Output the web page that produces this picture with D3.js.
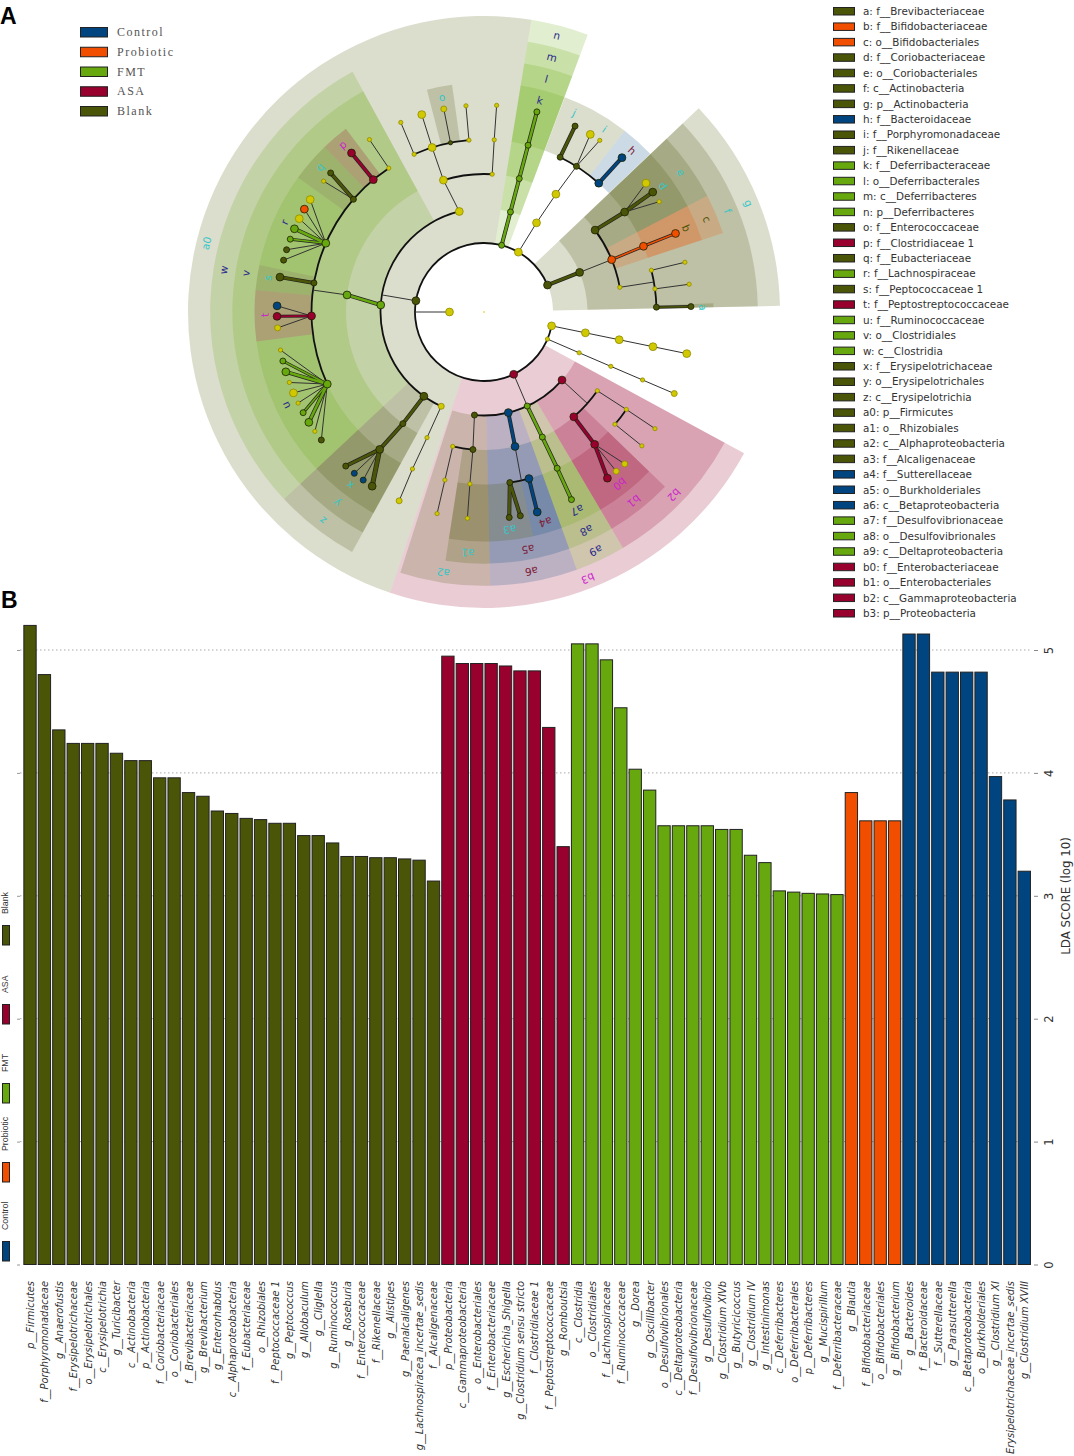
<!DOCTYPE html>
<html><head><meta charset="utf-8">
<script src="https://cdn.jsdelivr.net/npm/d3@7"></script>
<style>html,body{margin:0;padding:0;background:#fff;overflow:hidden}svg{display:block}</style>
</head><body><svg id="c" width="1074" height="1456"></svg>
<script>
// ---------- groups
const groupNames = ["Control","Probiotic","FMT","ASA","Blank"];
const groupColors = ["#00457f","#f24e00","#67a80f","#98002e","#4b5507"];
const neutralColor = "#d0c800";

// ---------- panel B
const blankCats = ["p__Firmicutes","f__Porphyromonadaceae","g__Anaerofustis","f__Erysipelotrichaceae","o__Erysipelotrichales","c__Erysipelotrichia","g__Turicibacter","c__Actinobacteria","p__Actinobacteria","f__Coriobacteriaceae","o__Coriobacteriales","f__Brevibacteriaceae","g__Brevibacterium","g__Enterorhabdus","c__Alphaproteobacteria","f__Eubacteriaceae","o__Rhizobiales","f__Peptococcaceae 1","g__Peptococcus","g__Allobaculum","g__Cliglella","g__Ruminococcus","g__Roseburia","f__Enterococcaceae","f__Rikenellaceae","g__Alistipes","g__Paenalcaligenes","g__Lachnospiracea_incertae_sedis","f__Alcaligenaceae"];
const blankVals = [5.2,4.8,4.35,4.24,4.24,4.24,4.16,4.10,4.10,3.96,3.96,3.84,3.81,3.69,3.67,3.63,3.62,3.59,3.59,3.49,3.49,3.43,3.32,3.32,3.31,3.31,3.30,3.29,3.12];
const asaCats = ["p__Proteobacteria","c__Gammaproteobacteria","o__Enterobacteriales","f__Enterobacteriaceae","g__Escherichia_Shigella","g__Clostridium sensu stricto","f__Clostridiaceae 1","f__Peptostreptococcaceae","g__Romboutsia"];
const asaVals = [4.95,4.89,4.89,4.89,4.87,4.83,4.83,4.37,3.40];
const fmtCats = ["c__Clostridia","o__Clostridiales","f__Lachnospiraceae","f__Ruminococcaceae","g__Dorea","g__Oscillibacter","o__Desulfovibrionales","c__Deltaproteobacteria","f__Desulfovibrionaceae","g__Desulfovibrio","g__Clostridium XlVb","g__Butyricicoccus","g__Clostridium IV","g__Intestinimonas","c__Deferribacteres","o__Deferribacterales","p__Deferribacteres","g__Mucispirillum","f__Deferribacteraceae"];
const fmtVals = [5.05,5.05,4.92,4.53,4.03,3.86,3.57,3.57,3.57,3.57,3.54,3.54,3.33,3.27,3.04,3.03,3.02,3.015,3.01];
const probioticCats = ["g__Blautia","f__Bifidobacteriaceae","o__Bifidobacteriales","g__Bifidobacterium"];
const probioticVals = [3.84,3.61,3.61,3.61];
const controlCats = ["g__Bacteroides","f__Bacteroidaceae","f__Sutterellaceae","g__Parasutterella","c__Betaproteobacteria","o__Burkholderiales","g__Clostridium XI","Erysipelotrichaceae_incertae_sedis","g__Clostridium XVIII"];
const controlVals = [5.13,5.13,4.82,4.82,4.82,4.82,3.97,3.78,3.20];
const yTicks = [0,1,2,3,4,5];

// ---------- panel A legend
const cladeLegendKeys = ["a","b","c","d","e","f","g","h","i","j","k","l","m","n","o","p","q","r","s","t","u","v","w","x","y","z","a0","a1","a2","a3","a4","a5","a6","a7","a8","a9","b0","b1","b2","b3"];
const cladeLegendNames = ["f__Brevibacteriaceae","f__Bifidobacteriaceae","o__Bifidobacteriales","f__Coriobacteriaceae","o__Coriobacteriales","c__Actinobacteria","p__Actinobacteria","f__Bacteroidaceae","f__Porphyromonadaceae","f__Rikenellaceae","f__Deferribacteraceae","o__Deferribacterales","c__Deferribacteres","p__Deferribacteres","f__Enterococcaceae","f__Clostridiaceae 1","f__Eubacteriaceae","f__Lachnospiraceae","f__Peptococcaceae 1","f__Peptostreptococcaceae","f__Ruminococcaceae","o__Clostridiales","c__Clostridia","f__Erysipelotrichaceae","o__Erysipelotrichales","c__Erysipelotrichia","p__Firmicutes","o__Rhizobiales","c__Alphaproteobacteria","f__Alcaligenaceae","f__Sutterellaceae","o__Burkholderiales","c__Betaproteobacteria","f__Desulfovibrionaceae","o__Desulfovibrionales","c__Deltaproteobacteria","f__Enterobacteriaceae","o__Enterobacteriales","c__Gammaproteobacteria","p__Proteobacteria"];
const cladeLegendGroups = ["Blank","Probiotic","Probiotic","Blank","Blank","Blank","Blank","Control","Blank","Blank","FMT","FMT","FMT","FMT","Blank","ASA","Blank","FMT","Blank","ASA","FMT","FMT","FMT","Blank","Blank","Blank","Blank","Blank","Blank","Blank","Control","Control","Control","FMT","FMT","FMT","ASA","ASA","ASA","ASA"];

// ---------- cladogram: wedges [rank (1 phylum .. 4 family), start deg, end deg, group]
const cladeWedges = [
[1,-161.5,9.2,"Blank"],[1,9.2,20.5,"FMT"],[1,46.5,88.8,"Blank"],[1,118.5,198.5,"ASA"],
[2,9.2,20.5,"FMT"],[2,46.5,88.8,"Blank"],[2,118.5,149.5,"ASA"],[2,149.5,160.2,"FMT"],[2,160.2,178.7,"Control"],[2,178.7,197.8,"Blank"],[2,208.8,226.9,"Blank"],[2,226.9,331.3,"FMT"],
[3,9.2,20.5,"FMT"],[3,46.5,62.5,"Blank"],[3,62.5,71.7,"Probiotic"],[3,134,149.5,"ASA"],[3,149.5,160.2,"FMT"],[3,160.2,178.7,"Control"],[3,178.7,188.8,"Blank"],[3,208.8,226.9,"Blank"],[3,226.9,331.3,"FMT"],
[4,9.2,20.5,"FMT"],[4,20.6,28.1,"Blank"],[4,28.1,37.8,"Blank"],[4,37.8,46.4,"Control"],[4,46.5,62.5,"Blank"],[4,62.5,71.7,"Probiotic"],[4,87.8,88.8,"Blank"],
[4,134,149.5,"ASA"],[4,149.5,160.2,"FMT"],[4,160.2,167.6,"Control"],[4,167.6,178.7,"Blank"],[4,178.7,188.8,"Blank"],[4,208.8,226.9,"Blank"],
[4,226.9,262.6,"FMT"],[4,262.6,275.5,"ASA"],[4,275.5,281.8,"Blank"],[4,281.8,305.9,"FMT"],[4,305.9,316,"Blank"],[4,316,323,"ASA"],[4,345.6,352,"Blank"]
];
// thick ring arcs [level, start deg, end deg]
const ringArcs = [[1,101.6,427],[2,204.4,346.2],[2,131.1,185.3],[3,53.6,79.7],[3,124.8,139.4],[3,184.6,193.1],[3,342.9,363.4],[4,26.2,41.7],[4,245.3,326.5],[4,76,88.4],[4,124.4,130.6],[4,164.9,171.4],[4,336.1,355]];
// tree nodes [id, parent, angle deg, level, group, size class, branch weight]
const treeNodes = [
["d1",null,14.8,1,"F",2,0],["d2","d1",14.8,2,"F",2,3],["d3","d2",14.8,3,"F",2,3],["d4","d3",14.8,4,"F",2,3],["d5","d4",14.8,5,"F",2,3],
["ba1",null,29.9,1,"N",3,0],["ba2","ba1",30.5,2,"N",3,0],["ba3","ba2",31.4,3,"N",3,0],["ba4","ba3",32.4,4,"B",2,0],["i1","ba4",30.9,5,"N",3,0],["i2","ba4",34,5,"N",1,0],
["j4",null,26.2,4,"B",2,0],["j5","j4",26.1,5,"B",2,3],["h4",null,41.7,4,"C",3,0],["h5","h4",41.8,5,"C",3,3],
["ac1",null,67,1,"B",3,0],["ac2","ac1",67.5,2,"B",3,3],["e3",null,53.6,3,"B",3,0],["c3","ac2",67.7,3,"P",3,0],["y3",null,79.7,3,"N",1,0],
["e4","e3",54.6,4,"B",3,3],["e5a","e4",51.5,5,"N",3,0],["e5b","e4",54.6,5,"B",3,3],["e5c","e4",57.8,5,"N",1,0],
["c4","c3",67.6,4,"P",3,2],["c5","c4",67.7,5,"P",3,2],
["yj","y3",80,4,"J",0,0],["a4a",null,76,4,"N",1,0],["a4b",null,82.3,4,"N",1,0],["a4c",null,88.4,4,"B",2,0],
["a5a","a4a",76.1,5,"N",1,0],["a5b","a4b",82.3,5,"N",1,0],["a5c","a4c",88.5,5,"B",2,2],
["u1",null,101.6,1,"N",3,0],["u2","u1",101.6,2,"N",3,0],["u3","u2",101.6,3,"N",3,0],["u4","u3",101.6,4,"N",3,0],["u5","u4",101.6,5,"N",3,0],
["w1",null,113.1,1,"N",1,0],["w2","w1",113.2,2,"N",1,0],["w3","w2",113.2,3,"N",1,0],["w4","w3",113.2,4,"N",1,0],["w5","w4",113.2,5,"N",2,0],
["pr1",null,154.5,1,"A",3,0],["de2","pr1",155.3,2,"F",2,0],["de3","de2",155,3,"F",2,3],["de4","de3",154.9,4,"F",2,3],["de5","de4",155,5,"F",2,3],
["ga2",null,131.1,2,"A",3,0],["gaj","ga2",131.5,3,"J",0,0],["ga3",null,139.4,3,"A",3,0],["gy3",null,124.8,3,"N",1,0],["ga4","ga3",140.1,4,"A",3,3],
["ga5a","ga4",143.4,5,"A",3,3],["ga5b","ga4",140.3,5,"N",2,0],["ga5c","ga4",137.2,5,"N",2,0],
["gy4a","gy3",124.4,4,"N",1,0],["gy4b",null,130.6,4,"N",1,0],["gy5a","gy4a",124.3,5,"N",1,0],["gy5b","gy4b",130.3,5,"N",1,0],
["be2",null,166.4,2,"C",3,0],["be3","be2",167,3,"C",3,3],["bej","be3",167.5,4,"J",0,0],["be4a",null,164.9,4,"C",3,0],["be4b",null,171.4,4,"B",2,0],
["be5a","be4a",165.1,5,"C",3,3],["be5b","be4b",173,5,"B",2,3],["be5c","be4b",169.9,5,"B",2,3],
["al2",null,185.3,2,"B",2,0],["al3","al2",184.6,3,"B",2,0],["al4","al3",184.7,4,"N",1,0],["al5","al4",184.6,5,"N",1,0],
["am3",null,193.1,3,"N",1,0],["am4","am3",193.1,4,"N",1,0],["am5","am4",193.1,5,"N",1,0],
["yl2",null,204.4,2,"N",2,0],["yl3","yl2",204.4,3,"N",1,0],["yl4","yl3",204.5,4,"N",1,0],["yl5","yl4",204.2,5,"N",2,0],
["er2",null,215.5,2,"B",3,0],["er3","er2",216,3,"B",2,3],["er4","er3",217.2,4,"B",3,3],["er5a","er4",221.9,5,"B",2,3],["er5b","er4",218.8,5,"C",2,0],["er5c","er4",215.7,5,"C",2,0],["er5d","er4",212.7,5,"B",3,4],
["fi0",null,270,1,"J",0,0],["rootleaf","fi0",270,0,"N",3,0],["fi1",null,279.4,1,"B",3,0],["fij","fi1",279.5,2,"J",0,0],
["cl2",null,273.9,2,"F",3,0],["cl3","cl2",277.1,3,"F",3,3],["clj","cl3",277.3,4,"J",0,0],
["u4n",null,245.3,4,"F",3,0],["t4",null,268.7,4,"A",3,0],["s4",null,279.7,4,"B",2,0],["r4",null,293.5,4,"F",3,0],["q4",null,310.8,4,"B",2,0],["p4",null,320.1,4,"A",3,0],["z4",null,326.5,4,"N",1,0],["z5","z4",326.4,5,"N",1,0],
["ua","u4n",259.4,5,"N",1,0],["ub","u4n",256.3,5,"F",2,2],["uc","u4n",253.2,5,"F",3,3],["ud","u4n",250.1,5,"N",1,0],["ue","u4n",247,5,"N",3,0],["uf","u4n",243.9,5,"N",1,0],["ug","u4n",240.9,5,"F",2,2],["uh","u4n",237.8,5,"F",3,3],["ui","u4n",234.8,5,"N",1,0],["uj","u4n",231.8,5,"B",2,0],
["ta","t4",271.7,5,"C",3,0],["tb","t4",268.8,5,"A",3,2],["tc","t4",265.6,5,"N",2,0],["sa","s4",279.7,5,"B",3,3],
["ra","r4",284.5,5,"B",2,0],["rb","r4",287.5,5,"B",2,0],["rc","r4",290.6,5,"F",2,2],["rd","r4",293.7,5,"F",3,3],["re","r4",296.8,5,"N",3,0],["rf","r4",299.8,5,"P",3,0],["rg","r4",302.9,5,"N",3,0],
["qa","q4",309.2,5,"N",1,0],["qb","q4",312.2,5,"B",2,3],["pa","p4",320.2,5,"A",3,3],
["yt2",null,346.2,2,"N",3,0],["yt3","yt2",342.9,3,"N",3,0],["yu3",null,363.4,3,"N",1,0],["yu4","yu3",363.4,4,"N",1,0],["yu5","yu4",363.5,5,"N",1,0],
["yj4","yt3",342.5,4,"N",3,0],["yi4",null,336.1,4,"N",1,0],["yk4",null,348.8,4,"B",1,0],["yl4b",null,355,4,"N",1,0],
["yi5","yi4",336.3,5,"N",1,0],["yj5","yj4",342.5,5,"N",3,0],["yk5","yk4",348.8,5,"N",2,0],["yl5b","yl4b",355,5,"N",1,0]
];
// clade letters [text, angle deg, ring band (0 family .. 3 phylum), colour kind]
const cladeLetters = [
["n",14.8,3,"navy"],["m",14.9,2,"navy"],["l",15,1,"navy"],["k",14.8,0,"navy"],["j",24.4,0,"cyan"],["i",33.4,0,"cyan"],["h",42.5,0,"wine"],
["g",67.6,3,"cyan"],["f",67.5,2,"cyan"],["e",54.7,1,"cyan"],["d",54.8,0,"cyan"],["c",67.4,1,"olive"],["b",67.5,0,"olive"],["a",88.8,0,"cyan"],
["b0",141.7,0,"mag"],["b1",141.6,1,"mag"],["b2",133.9,2,"mag"],["b3",158.7,3,"mag"],["a9",154.9,2,"navy"],["a8",154.9,1,"navy"],["a7",154.8,0,"navy"],
["a6",169.6,2,"wine"],["a5",169.5,1,"wine"],["a4",163.7,0,"wine"],["a3",173.2,0,"cyan"],["a2",188.9,2,"cyan"],["a1",183.9,1,"cyan"],
["z",217.7,2,"cyan"],["y",217.6,1,"cyan"],["x",217.7,0,"cyan"],["u",244.8,0,"navy"],["t",269.2,0,"mag"],["s",279,0,"cyan"],["r",294.3,0,"navy"],["q",311.5,0,"cyan"],["p",319.8,0,"mag"],["o",348.9,0,"cyan"],
["v",279.3,1,"navy"],["w",279.2,2,"navy"],["a0",283.9,3,"cyan"]
];

// ---------- drawing
const svg = d3.select("#c");
const colorOf = d3.scaleOrdinal().domain(groupNames).range(groupColors);
const codeColor = {C:groupColors[0],P:groupColors[1],F:groupColors[2],A:groupColors[3],B:groupColors[4],N:neutralColor};
const letterColor = {navy:"#2b2b8c",cyan:"#35c6c6",wine:"#7d2038",olive:"#4b5507",mag:"#cc22cc"};
const toRad = d3.scaleLinear().domain([0,360]).range([0,2*Math.PI]);
const radial = d3.scaleLinear().domain([1,5]).range([69,207]);
const outer = d3.scaleLinear().domain([1,4]).range([296,229.5]);
const band = d3.scaleLinear().domain([0,3]).range([219,286]);
const polar = (ang,r)=>[r*Math.sin(toRad(ang)),-r*Math.cos(toRad(ang))];

const clad = svg.append("g").attr("transform","translate(484,312)");
const arc = d3.arc();
clad.selectAll("path.wedge").data(cladeWedges).join("path").attr("class","wedge")
  .attr("d",d=>arc({innerRadius:radial(d[0]),outerRadius:outer(d[0]),startAngle:toRad(d[1]),endAngle:toRad(d[2])}))
  .attr("fill",d=>colorOf(d[3])).attr("fill-opacity",0.2);

clad.selectAll("path.ring").data(ringArcs).join("path").attr("class","ring")
  .attr("d",d=>arc({innerRadius:radial(d[0])-0.9,outerRadius:radial(d[0])+0.9,startAngle:toRad(d[1]),endAngle:toRad(d[2])}))
  .attr("fill","#111");

const byId = new Map(treeNodes.map(n=>[n[0],n]));
const edges = treeNodes.filter(n=>n[1]);
const ln = (sel)=>sel
  .attr("x1",d=>polar(byId.get(d[1])[2],radial(byId.get(d[1])[3]))[0])
  .attr("y1",d=>polar(byId.get(d[1])[2],radial(byId.get(d[1])[3]))[1])
  .attr("x2",d=>polar(d[2],radial(d[3]))[0])
  .attr("y2",d=>polar(d[2],radial(d[3]))[1]);
clad.selectAll("line.e0").data(edges).join("line").attr("class","e0").call(ln)
  .attr("stroke",d=>d[6]?"#222":"#333").attr("stroke-width",d=>d[6]?d[6]+1:1);
clad.selectAll("line.e1").data(edges.filter(d=>d[6])).join("line").attr("class","e1").call(ln)
  .attr("stroke",d=>codeColor[d[4]]).attr("stroke-width",d=>d[6]-0.4);

const nodeR = d3.scaleLinear().domain([1,3]).range([2.1,3.9]);
clad.selectAll("circle.n").data(treeNodes.filter(n=>n[4]!=="J")).join("circle").attr("class","n")
  .attr("cx",d=>polar(d[2],radial(d[3]))[0]).attr("cy",d=>polar(d[2],radial(d[3]))[1])
  .attr("r",d=>nodeR(d[5])).attr("fill",d=>codeColor[d[4]])
  .attr("stroke",d=>d[4]==="N"?"#8f8a00":"#1d2200").attr("stroke-width",0.8);
clad.append("circle").attr("r",0.8).attr("fill",neutralColor);

clad.selectAll("text.l").data(cladeLetters).join("text").attr("class","l")
  .attr("transform",d=>{const p=polar(d[1],band(d[2]));return `translate(${p[0]},${p[1]}) rotate(${d[1]})`;})
  .attr("text-anchor","middle").attr("dy","0.36em")
  .attr("font-family","DejaVu Sans").attr("font-size",10.5).attr("fill",d=>letterColor[d[3]]).text(d=>d[0]);

// panel letters
svg.append("text").attr("x",0).attr("y",24).attr("font-family","Liberation Sans").attr("font-weight","bold").attr("font-size",23).attr("fill","#000").text("A");
svg.append("text").attr("x",1).attr("y",608).attr("font-family","Liberation Sans").attr("font-weight","bold").attr("font-size",23).attr("fill","#000").text("B");

// top left legend
const topLegendY = d3.scalePoint().domain(groupNames).range([32,111]);
const tl = svg.append("g").selectAll("g").data(groupNames).join("g").attr("transform",d=>`translate(80,${topLegendY(d)})`);
tl.append("rect").attr("x",0.5).attr("y",-4.5).attr("width",27).attr("height",9.5).attr("fill",d=>colorOf(d)).attr("stroke","#222").attr("stroke-width",1);
tl.append("text").attr("x",37).attr("y",4).attr("font-family","Liberation Serif").attr("font-size",12).attr("letter-spacing",1.5).attr("fill","#555").text(d=>d);

// right legend
const rightIdx = d3.range(cladeLegendKeys.length);
const rightY = d3.scalePoint().domain(rightIdx).range([11,613]);
const rl = svg.append("g").selectAll("g").data(rightIdx).join("g").attr("transform",i=>`translate(833,${rightY(i)})`);
rl.append("rect").attr("x",0.5).attr("y",-3.5).attr("width",21).attr("height",7.5).attr("fill",i=>colorOf(cladeLegendGroups[i])).attr("stroke","#222").attr("stroke-width",1);
rl.append("text").attr("x",30).attr("y",4).attr("font-family","DejaVu Sans").attr("font-size",10.4).attr("fill","#333").text(i=>`${cladeLegendKeys[i]}: ${cladeLegendNames[i]}`);

// bars
const categories = [...blankCats,...asaCats,...fmtCats,...probioticCats,...controlCats];
const scores = [...blankVals,...asaVals,...fmtVals,...probioticVals,...controlVals];
const groupsOf = [...blankCats.map(()=>"Blank"),...asaCats.map(()=>"ASA"),...fmtCats.map(()=>"FMT"),...probioticCats.map(()=>"Probiotic"),...controlCats.map(()=>"Control")];
const x = d3.scaleBand().domain(d3.range(categories.length)).range([22.8,1031.5]).paddingInner(0.145).paddingOuter(0.0725);
const y = d3.scaleLinear().domain([0,5]).range([1264.5,650]);

svg.append("g").selectAll("line").data(yTicks.filter(t=>t>0)).join("line")
  .attr("x1",20).attr("x2",1031).attr("y1",y).attr("y2",y)
  .attr("stroke","#aaa").attr("stroke-width",1).attr("stroke-dasharray","1.5 2.5");

svg.append("g").selectAll("rect").data(d3.range(categories.length)).join("rect")
  .attr("x",i=>x(i)).attr("width",x.bandwidth()).attr("y",i=>y(scores[i])).attr("height",i=>y(0)-y(scores[i]))
  .attr("fill",i=>colorOf(groupsOf[i])).attr("stroke","#222").attr("stroke-width",1);

const axR = svg.append("g").attr("transform","translate(1034,0)").call(d3.axisRight(y).tickValues(yTicks).tickFormat(d3.format("d")).tickSize(4));
axR.select(".domain").remove();
axR.selectAll("line").attr("stroke","#888");
axR.selectAll("text").attr("font-family","DejaVu Sans").attr("font-size",11.5).attr("fill","#333")
  .attr("x",0).attr("dy",0).attr("text-anchor","middle").attr("transform","translate(19,0) rotate(-90)");
const axL = svg.append("g").attr("transform","translate(20,0)").call(d3.axisLeft(y).tickValues(yTicks).tickFormat("").tickSize(3));
axL.select(".domain").remove();
axL.selectAll("line").attr("stroke","#999");

svg.append("text").attr("transform","translate(1070,896) rotate(-90)").attr("text-anchor","middle")
  .attr("font-family","DejaVu Sans").attr("font-size",11.8).attr("fill","#333").text("LDA SCORE (log 10)");

// category labels
svg.append("g").selectAll("text").data(d3.range(categories.length)).join("text")
  .attr("transform",i=>`translate(${x(i)+x.bandwidth()/2+4},1281) rotate(-90)`)
  .attr("text-anchor","end").attr("font-family","DejaVu Sans").attr("font-style","italic").attr("font-size",9.9).attr("fill","#333")
  .text(i=>categories[i]);

// left legend
const leftOrder = ["Blank","ASA","FMT","Probiotic","Control"];
const leftY = d3.scalePoint().domain(leftOrder).range([925,1241]);
const ll = svg.append("g").selectAll("g").data(leftOrder).join("g").attr("transform",d=>`translate(0,${leftY(d)})`);
ll.append("rect").attr("x",2.5).attr("y",0.5).attr("width",7).attr("height",19.5).attr("fill",d=>colorOf(d)).attr("stroke","#222").attr("stroke-width",1);
ll.append("text").attr("transform","translate(8,-11) rotate(-90)").attr("font-family","Liberation Sans").attr("font-size",8.8).attr("fill","#333").text(d=>d);
</script></body></html>
